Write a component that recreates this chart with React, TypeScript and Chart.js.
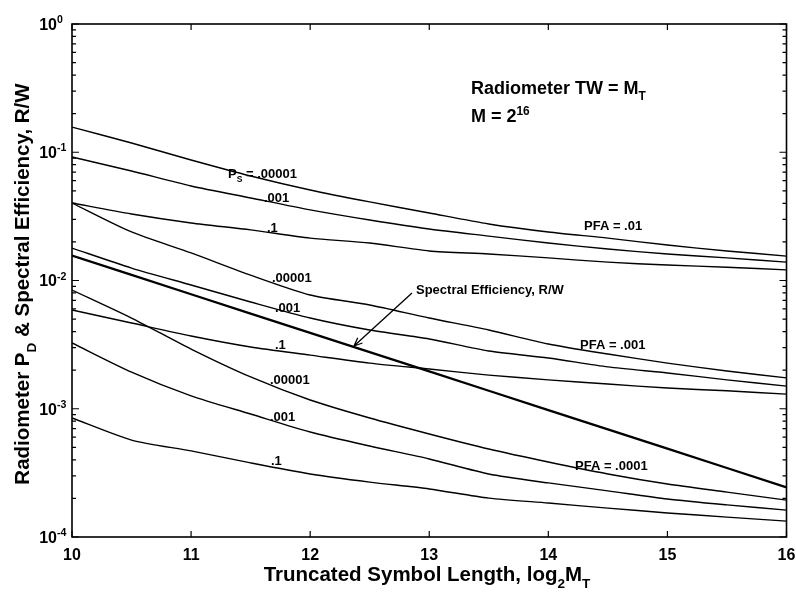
import React, { useEffect, useRef } from "react";
import { Chart, registerables } from "chart.js";

Chart.register(...registerables);

// ---- Data ----
const xValues = [10, 10.5, 11, 11.5, 12, 12.5, 13, 13.5, 14, 14.5, 15, 15.5, 16];

// PFA = .01
const pfa01_ps00001 = [0.157, 0.118, 0.087, 0.0653, 0.0508, 0.041, 0.0336, 0.0276, 0.0239, 0.0214, 0.0189, 0.017, 0.0155];
const pfa01_ps001 = [0.0918, 0.0714, 0.0546, 0.044, 0.0355, 0.0296, 0.0252, 0.0222, 0.0196, 0.0176, 0.0161, 0.015, 0.0139];
const pfa01_ps1 = [0.0402, 0.033, 0.0281, 0.0248, 0.0214, 0.0196, 0.017, 0.0161, 0.015, 0.0139, 0.0132, 0.0127, 0.0121];

// PFA = .001
const pfa001_ps00001 = [0.0402, 0.0239, 0.0164, 0.011, 0.00771, 0.00644, 0.0051, 0.00411, 0.0032, 0.00267, 0.00227, 0.00197, 0.00174];
const pfa001_ps001 = [0.0179, 0.0125, 0.00922, 0.0068, 0.0051, 0.00411, 0.0035, 0.00282, 0.00249, 0.00212, 0.0019, 0.00168, 0.0015];
const pfa001_ps1 = [0.00589, 0.00466, 0.00369, 0.00303, 0.00262, 0.00227, 0.00204, 0.00183, 0.00168, 0.00156, 0.00145, 0.00138, 0.0013];

// PFA = .0001
const pfa0001_ps00001 = [0.00843, 0.0051, 0.00292, 0.00177, 0.00117, 0.000847, 0.000636, 0.000485, 0.000384, 0.00031, 0.000259, 0.000224, 0.000194];
const pfa0001_ps001 = [0.00326, 0.00193, 0.00126, 0.00091, 0.000659, 0.000512, 0.000406, 0.00031, 0.000264, 0.000229, 0.000198, 0.000178, 0.000162];
const pfa0001_ps1 = [0.000847, 0.00057, 0.000469, 0.000378, 0.00031, 0.000268, 0.000237, 0.000201, 0.000184, 0.000168, 0.000154, 0.000143, 0.000133];

// Spectral efficiency R/W
const spectralEfficiency = [0.015625, 0.01105, 0.0078125, 0.005524, 0.003906, 0.002762, 0.001953, 0.001381, 0.000977, 0.000691, 0.000488, 0.000345, 0.000244];

const thinSeries = [
  pfa01_ps00001, pfa01_ps001, pfa01_ps1,
  pfa001_ps00001, pfa001_ps001, pfa001_ps1,
  pfa0001_ps00001, pfa0001_ps001, pfa0001_ps1,
];

const yTickExponents = ["0", "-1", "-2", "-3", "-4"];
const xTickValues = [10, 11, 12, 13, 14, 15, 16];

const FAMILY = '"Liberation Sans", Arial, Helvetica, sans-serif';

type Seg = { t: string; sub?: boolean; sup?: boolean };

function drawRich(
  ctx: CanvasRenderingContext2D,
  segs: Seg[],
  x: number,
  y: number,
  size: number,
  align: "left" | "center" | "right" = "left",
  weight = "bold"
) {
  const small = size * 0.66;
  const widths = segs.map((s) => {
    ctx.font = `${weight} ${s.sub || s.sup ? small : size}px ${FAMILY}`;
    return ctx.measureText(s.t).width;
  });
  const total = widths.reduce((a, b) => a + b, 0);
  let cx = align === "left" ? x : align === "center" ? x - total / 2 : x - total;
  const base = y + size * 0.36;
  ctx.textBaseline = "alphabetic";
  ctx.textAlign = "left";
  segs.forEach((s, i) => {
    ctx.font = `${weight} ${s.sub || s.sup ? small : size}px ${FAMILY}`;
    const dy = s.sub ? size * 0.32 : s.sup ? -size * 0.42 : 0;
    ctx.fillText(s.t, cx, base + dy);
    cx += widths[i];
  });
}

const overlayPlugin = {
  id: "overlay",
  afterDraw(chart: any) {
    const ctx: CanvasRenderingContext2D = chart.ctx;
    const { left, right, top, bottom } = chart.chartArea;
    const xs = chart.scales.x;
    const ys = chart.scales.y;
    ctx.save();
    ctx.strokeStyle = "#000";
    ctx.fillStyle = "#000";

    // frame
    ctx.lineWidth = 1.6;
    ctx.strokeRect(left, top, right - left, bottom - top);

    // x ticks (inside, top and bottom)
    ctx.lineWidth = 1.2;
    ctx.beginPath();
    xTickValues.forEach((v) => {
      const px = xs.getPixelForValue(v);
      ctx.moveTo(px, bottom);
      ctx.lineTo(px, bottom - 6);
      ctx.moveTo(px, top);
      ctx.lineTo(px, top + 6);
    });
    // y ticks (inside, left and right)
    for (let e = -4; e <= 0; e++) {
      for (let m = 1; m < 10; m++) {
        if (e === 0 && m > 1) break;
        const v = m * Math.pow(10, e);
        const py = ys.getPixelForValue(v);
        const len = m === 1 ? 7 : 4;
        ctx.moveTo(left, py);
        ctx.lineTo(left + len, py);
        ctx.moveTo(right, py);
        ctx.lineTo(right - len, py);
      }
    }
    ctx.stroke();

    // y tick labels with superscripts
    yTickExponents.forEach((ex) => {
      const py = ys.getPixelForValue(Math.pow(10, Number(ex)));
      ctx.font = `bold 16px ${FAMILY}`;
      const w = ctx.measureText("10").width;
      drawRich(ctx, [{ t: "10" }, { t: ex, sup: true }], 57 - w, py, 16, "left");
    });

    // axis titles
    drawRich(
      ctx,
      [{ t: "Truncated Symbol Length, log" }, { t: "2", sub: true }, { t: "M" }, { t: "T", sub: true }],
      427,
      574,
      20.5,
      "center"
    );
    ctx.save();
    ctx.translate(22, 284);
    ctx.rotate(-Math.PI / 2);
    drawRich(
      ctx,
      [{ t: "Radiometer P" }, { t: "D", sub: true }, { t: " & Spectral Efficiency, R/W" }],
      0,
      0,
      20.5,
      "center"
    );
    ctx.restore();

    // annotations
    drawRich(ctx, [{ t: "Radiometer TW = M" }, { t: "T", sub: true }], 471, 88, 18);
    drawRich(ctx, [{ t: "M = 2" }, { t: "16", sup: true }], 471, 116, 18);

    const lbl = 13;
    drawRich(ctx, [{ t: "P" }, { t: "S", sub: true }, { t: " = .00001" }], 228, 173, lbl);
    drawRich(ctx, [{ t: ".001" }], 264, 197, lbl);
    drawRich(ctx, [{ t: ".1" }], 267, 227, lbl);
    drawRich(ctx, [{ t: ".00001" }], 272, 277, lbl);
    drawRich(ctx, [{ t: ".001" }], 275, 307, lbl);
    drawRich(ctx, [{ t: ".1" }], 275, 344, lbl);
    drawRich(ctx, [{ t: ".00001" }], 270, 379, lbl);
    drawRich(ctx, [{ t: ".001" }], 270, 416, lbl);
    drawRich(ctx, [{ t: ".1" }], 271, 460, lbl);
    drawRich(ctx, [{ t: "PFA = .01" }], 584, 225, lbl);
    drawRich(ctx, [{ t: "PFA = .001" }], 580, 344, lbl);
    drawRich(ctx, [{ t: "PFA = .0001" }], 575, 465, lbl);
    drawRich(ctx, [{ t: "Spectral Efficiency, R/W" }], 416, 289, 13);

    // arrow
    const x0 = 412, y0 = 293, x1 = 354, y1 = 346;
    ctx.lineWidth = 1.3;
    ctx.beginPath();
    ctx.moveTo(x0, y0);
    ctx.lineTo(x1, y1);
    const ang = Math.atan2(y1 - y0, x1 - x0);
    const ah = 9;
    ctx.moveTo(x1, y1);
    ctx.lineTo(x1 - ah * Math.cos(ang - 0.4), y1 - ah * Math.sin(ang - 0.4));
    ctx.moveTo(x1, y1);
    ctx.lineTo(x1 - ah * Math.cos(ang + 0.4), y1 - ah * Math.sin(ang + 0.4));
    ctx.stroke();

    ctx.restore();
  },
};

export default function App() {
  const canvasRef = useRef<HTMLCanvasElement | null>(null);

  useEffect(() => {
    if (!canvasRef.current) return;
    const datasets: any[] = thinSeries.map((arr, i) => ({
      label: `series${i}`,
      data: xValues.map((x, j) => ({ x, y: arr[j] })),
      borderColor: "#000",
      borderWidth: 1.4,
      pointRadius: 0,
      tension: 0.25,
      fill: false,
    }));
    datasets.push({
      label: "Spectral Efficiency, R/W",
      data: xValues.map((x, j) => ({ x, y: spectralEfficiency[j] })),
      borderColor: "#000",
      borderWidth: 2.3,
      pointRadius: 0,
      tension: 0,
      fill: false,
    });

    const chart = new Chart(canvasRef.current, {
      type: "line",
      data: { datasets },
      options: {
        animation: false,
        responsive: true,
        maintainAspectRatio: false,
        layout: { padding: { top: 24, right: 0, left: 0, bottom: 0 } },
        plugins: {
          legend: { display: false },
          tooltip: { enabled: false },
        },
        scales: {
          x: {
            type: "linear",
            min: 10,
            max: 16,
            grid: { display: false, drawTicks: false },
            border: { display: false },
            ticks: {
              stepSize: 1,
              color: "#000",
              padding: 9,
              font: { family: FAMILY, size: 16, weight: "bold" },
            },
            afterFit: (s: any) => {
              s.height = 56;
              s.paddingRight = 9.5;
              s.paddingLeft = 0;
            },
          },
          y: {
            type: "logarithmic",
            min: 0.0001,
            max: 1,
            grid: { display: false, drawTicks: false },
            border: { display: false },
            ticks: { display: false },
            afterFit: (s: any) => {
              s.width = 72;
            },
          },
        },
      } as any,
      plugins: [overlayPlugin],
    });
    return () => chart.destroy();
  }, []);

  return (
    <div style={{ position: "fixed", left: 0, top: 0, width: 796, height: 593, background: "#fff" }}>
      <canvas ref={canvasRef} />
    </div>
  );
}
